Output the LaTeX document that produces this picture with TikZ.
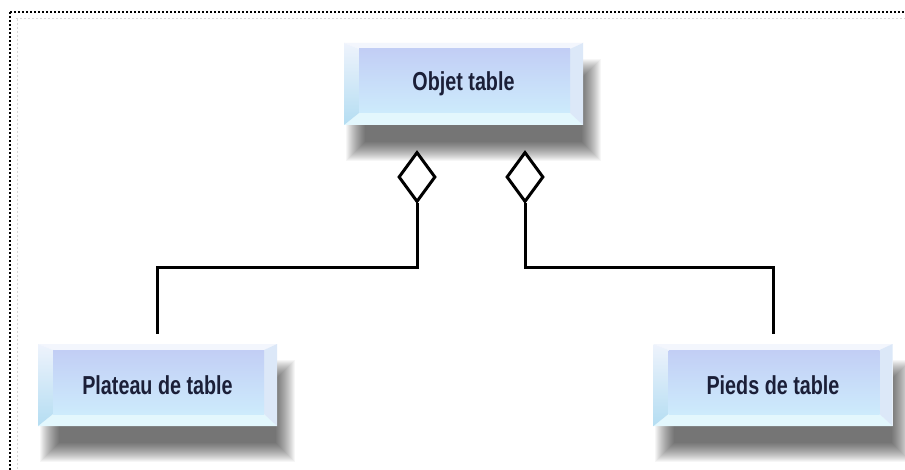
\documentclass[tikz,border=0pt]{standalone}
\usepackage{fontspec}
\newfontfamily\boxfont{Liberation Sans}[FakeStretch=0.76]
\usetikzlibrary{shapes.geometric,backgrounds}

\definecolor{labelink}{HTML}{1B1F38}
\definecolor{faceTop}{HTML}{C2CEF5}
\definecolor{faceMid}{HTML}{C0D6F8}
\definecolor{faceBot}{HTML}{CDEBFC}
\definecolor{bevTop}{HTML}{F3F6FD}
\definecolor{bevLeftA}{HTML}{EEF3FC}
\definecolor{bevLeftB}{HTML}{B4DDF2}
\definecolor{bevRight}{HTML}{DCE8F8}
\definecolor{bevBottom}{HTML}{E3F7FD}

\tikzset{
  bevelbox/.style={
    minimum width=239pt, minimum height=82pt, inner sep=0pt,
    text=labelink, font=\boxfont\bfseries\fontsize{26}{30}\selectfont,
    fill=white,
    path picture={
      \coordinate (oNW) at (path picture bounding box.north west);
      \coordinate (oNE) at (path picture bounding box.north east);
      \coordinate (oSW) at (path picture bounding box.south west);
      \coordinate (oSE) at (path picture bounding box.south east);
      \coordinate (iNW) at ([xshift=15pt,yshift=-6pt]path picture bounding box.north west);
      \coordinate (iNE) at ([xshift=-13pt,yshift=-6pt]path picture bounding box.north east);
      \coordinate (iSW) at ([xshift=15pt,yshift=12pt]path picture bounding box.south west);
      \coordinate (iSE) at ([xshift=-13pt,yshift=12pt]path picture bounding box.south east);
      \fill[bevTop] (oNW) -- (oNE) -- (iNE) -- (iNW) -- cycle;
      \fill[bevBottom] (oSW) -- (oSE) -- (iSE) -- (iSW) -- cycle;
      \shade[top color=bevLeftA, bottom color=bevLeftB] (oNW) -- (iNW) -- (iSW) -- (oSW) -- cycle;
      \fill[bevRight] (oNE) -- (iNE) -- (iSE) -- (oSE) -- cycle;
      \shade[top color=faceTop, middle color=faceMid, bottom color=faceBot] (iNW) rectangle (iSE);
    }
  },
  aggdiamond/.style={
    diamond, draw=black, fill=white, line width=3pt, inner sep=0pt,
    minimum width=37pt, minimum height=50pt
  },
  link/.style={draw=black, line width=3pt},
  frameline/.style={line width=2pt, dash pattern=on 2pt off 2pt},
  softshadow/.style={fill=black, opacity=0.035}
}

\begin{document}
\begin{tikzpicture}[x=1pt,y=-1pt]
  \useasboundingbox (0,0) rectangle (905,470);

  % dotted frame along the top and left edges
  \draw[frameline] (10,12) -- (905,12);
  \draw[frameline] (10,12) -- (10,470);
  \draw[black!15, line width=1pt, dash pattern=on 2pt off 2pt] (16,19) -- (905,19);
  \draw[black!15, line width=1pt, dash pattern=on 2pt off 2pt] (17,19) -- (17,470);

  % boxes
  \node[bevelbox] (whole) at (463.5,84) {Objet table};
  \node[bevelbox] (plat)  at (157.5,385) {Plateau de table};
  \node[bevelbox] (pieds) at (773,385) {Pieds de table};

  % aggregation diamonds
  \node[aggdiamond] (dl) at (417,177) {};
  \node[aggdiamond] (dr) at (525,177) {};

  \coordinate (busL) at (157.5,268);
  \coordinate (busR) at (773,268);

  \draw[link] (dl.south) |- (busL) -- ([yshift=10pt]plat.north);
  \draw[link] (dr.south) |- (busR) -- ([yshift=10pt]pieds.north);

  % soft drop shadows behind the boxes
  \begin{pgfonlayer}{background}
    \fill[white] (0,0) rectangle (905,470);
    \foreach \b in {whole,plat,pieds}{
      \foreach \i in {-10,...,9}{
        \fill[softshadow]
          ([xshift=12pt+\i pt, yshift=-26pt+\i pt]\b.south west)
          rectangle
          ([xshift=8pt-\i pt, yshift=-26pt-\i pt]\b.north east);
      }
    }
  \end{pgfonlayer}
\end{tikzpicture}
\end{document}
